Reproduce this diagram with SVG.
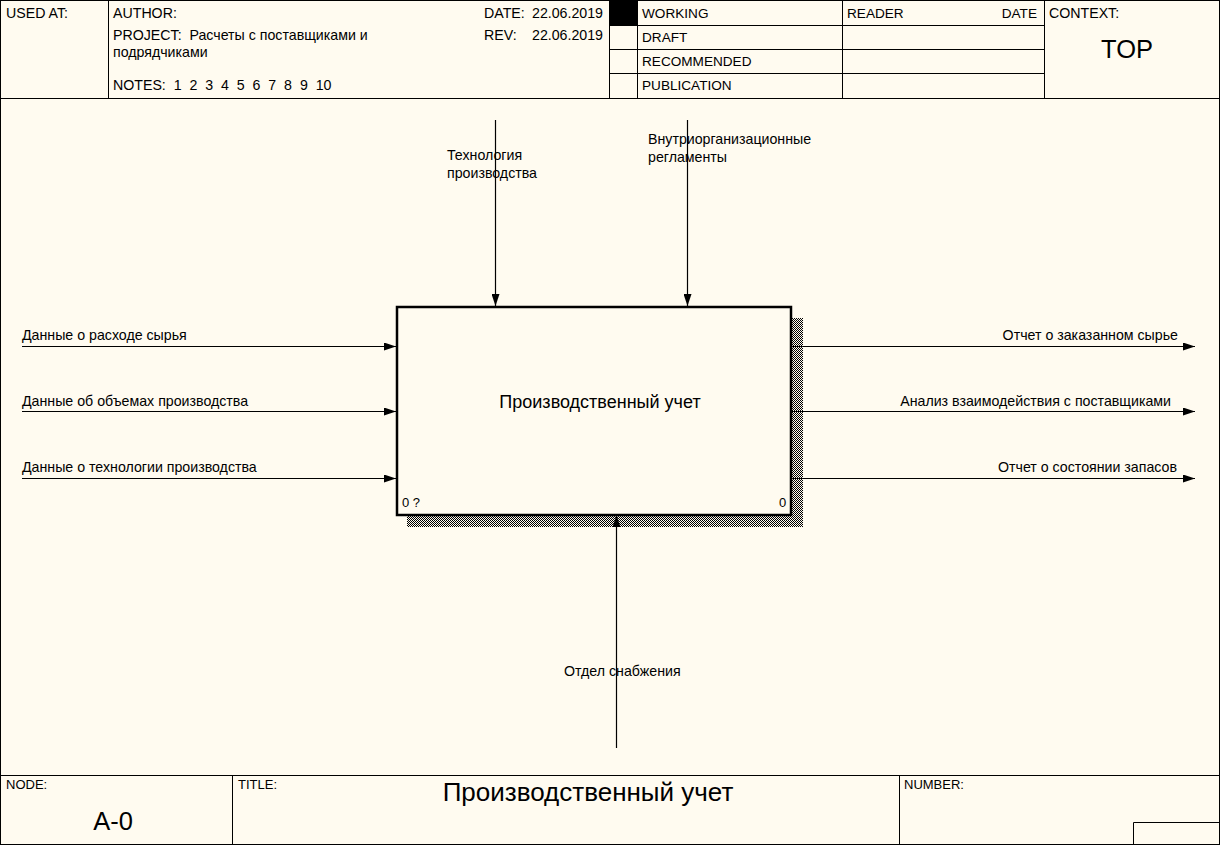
<svg xmlns="http://www.w3.org/2000/svg" width="1220" height="845" viewBox="0 0 1220 845">
<defs>
<style>
.t{font-family:"Liberation Sans",Arial,sans-serif;font-size:14.2px;fill:#000}
.h{font-family:"Liberation Sans",Arial,sans-serif;font-size:13.6px;fill:#000}
.s{font-family:"Liberation Sans",Arial,sans-serif;font-size:13px;fill:#000}
.big{font-family:"Liberation Sans",Arial,sans-serif;font-size:25.5px;fill:#000}
.ln{stroke:#000;stroke-width:1;fill:none}
.ar{stroke:#000;stroke-width:1.2;fill:none}
</style>
<pattern id="hatch" width="2" height="2" patternUnits="userSpaceOnUse">
<rect x="0" y="0" width="1" height="1" fill="#000" shape-rendering="crispEdges"/>
<rect x="1" y="1" width="1" height="1" fill="#000" shape-rendering="crispEdges"/>
</pattern>
<marker id="ah" viewBox="0 0 12 8" refX="12" refY="4" markerWidth="12" markerHeight="8" markerUnits="userSpaceOnUse" orient="auto">
<path d="M0,0 L12,4 L0,8 Z" fill="#000"/>
</marker>
</defs>
<rect x="0" y="0" width="1220" height="845" fill="#fffbf0"/>
<g id="frame">
<rect x="0.5" y="0.5" width="1219" height="844" class="ln" stroke-width="1.5"/>
<line x1="0" y1="98.5" x2="1220" y2="98.5" class="ln" stroke-width="1.5"/>
<line x1="108.5" y1="0" x2="108.5" y2="98" class="ln"/>
<line x1="609.5" y1="0" x2="609.5" y2="98" class="ln"/>
<line x1="637.5" y1="0" x2="637.5" y2="98" class="ln"/>
<line x1="842.5" y1="0" x2="842.5" y2="98" class="ln"/>
<line x1="1044.5" y1="0" x2="1044.5" y2="98" class="ln"/>
<line x1="609" y1="25.5" x2="1044" y2="25.5" class="ln"/>
<line x1="609" y1="49.5" x2="1044" y2="49.5" class="ln"/>
<line x1="609" y1="73.5" x2="1044" y2="73.5" class="ln"/>
<rect x="610" y="1" width="27" height="24" fill="#000"/>
<text class="t" x="6" y="18">USED AT:</text>
<text class="t" x="113" y="18">AUTHOR:</text>
<text class="t" x="113" y="40" xml:space="preserve">PROJECT:  Расчеты с поставщиками и</text>
<text class="t" x="113" y="57">подрядчиками</text>
<text class="t" x="113" y="90" xml:space="preserve">NOTES:  1  2  3  4  5  6  7  8  9  10</text>
<text class="t" x="484" y="18">DATE:</text>
<text class="t" x="532" y="18">22.06.2019</text>
<text class="t" x="484" y="40">REV:</text>
<text class="t" x="532" y="40">22.06.2019</text>
<text class="h" x="642" y="18">WORKING</text>
<text class="h" x="642" y="42">DRAFT</text>
<text class="h" x="642" y="66">RECOMMENDED</text>
<text class="h" x="642" y="90">PUBLICATION</text>
<text class="h" x="847" y="18">READER</text>
<text class="h" x="1037" y="18" text-anchor="end">DATE</text>
<text class="t" x="1049" y="18">CONTEXT:</text>
<text class="big" x="1127" y="58" text-anchor="middle">TOP</text>
<line x1="0" y1="775.5" x2="1220" y2="775.5" class="ln" stroke-width="1.5"/>
<line x1="232.5" y1="775" x2="232.5" y2="845" class="ln"/>
<line x1="899.5" y1="775" x2="899.5" y2="845" class="ln"/>
<polyline points="1133.5,845 1133.5,822.5 1220,822.5" class="ln"/>
<text class="s" x="6" y="789">NODE:</text>
<text class="big" x="113" y="830" text-anchor="middle">A-0</text>
<text class="s" x="238" y="789">TITLE:</text>
<text class="big" x="588" y="801" text-anchor="middle" style="font-size:26px">Производственный учет</text>
<text class="s" x="904" y="789">NUMBER:</text>
</g>
<g id="connectors">
<line x1="22" y1="346.5" x2="396" y2="346.5" class="ar" marker-end="url(#ah)"/>
<line x1="22" y1="411.5" x2="396" y2="411.5" class="ar" marker-end="url(#ah)"/>
<line x1="22" y1="478.5" x2="396" y2="478.5" class="ar" marker-end="url(#ah)"/>
<line x1="791" y1="346.5" x2="1195" y2="346.5" class="ar" marker-end="url(#ah)"/>
<line x1="791" y1="411.5" x2="1195" y2="411.5" class="ar" marker-end="url(#ah)"/>
<line x1="791" y1="478.5" x2="1195" y2="478.5" class="ar" marker-end="url(#ah)"/>
<line x1="495.5" y1="120" x2="495.5" y2="306" class="ar" marker-end="url(#ah)"/>
<line x1="687.5" y1="120" x2="687.5" y2="306" class="ar" marker-end="url(#ah)"/>
<line x1="616.5" y1="748" x2="616.5" y2="515" class="ar" marker-end="url(#ah)"/>
<text class="t" x="22" y="340">Данные о расходе сырья</text>
<text class="t" x="22" y="406">Данные об объемах производства</text>
<text class="t" x="22" y="472">Данные о технологии производства</text>
<text class="t" x="1178" y="340" text-anchor="end">Отчет о заказанном сырье</text>
<text class="t" x="1171" y="406" text-anchor="end">Анализ взаимодействия с поставщиками</text>
<text class="t" x="1177" y="472" text-anchor="end">Отчет о состоянии запасов</text>
<text class="t" x="447" y="160">Технология</text>
<text class="t" x="447" y="178">производства</text>
<text class="t" x="648" y="144">Внутриорганизационные</text>
<text class="t" x="648" y="162">регламенты</text>
<text class="t" x="564" y="676">Отдел снабжения</text>
</g>
<g id="node-A0">
<rect x="791" y="318" width="12" height="209" fill="url(#hatch)"/>
<rect x="407" y="515" width="396" height="12" fill="url(#hatch)"/>
<rect x="397" y="307" width="394" height="208" fill="#fffbf0" stroke="#000" stroke-width="2.5"/>
<text x="600" y="408" text-anchor="middle" style="font-family:'Liberation Sans',Arial,sans-serif;font-size:18px">Производственный учет</text>
<text class="s" x="402" y="507">0 ?</text>
<text class="s" x="779" y="507">0</text>
</g>
</svg>
